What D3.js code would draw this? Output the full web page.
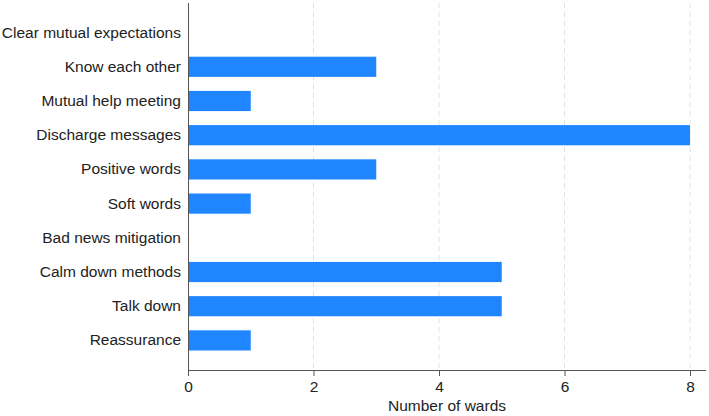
<!DOCTYPE html>
<html>
<head>
<meta charset="utf-8">
<script src="https://cdn.jsdelivr.net/npm/d3@7"></script>
<style>
  body { margin: 0; background: #fff; }
  svg { display: block; font-family: "Liberation Sans", Arial, sans-serif; }
</style>
</head>
<body>
<svg id="chart" width="709" height="416"></svg>
<script>
const categories = ["Clear mutual expectations", "Know each other", "Mutual help meeting",
  "Discharge messages", "Positive words", "Soft words", "Bad news mitigation",
  "Calm down methods", "Talk down", "Reassurance"]
const wards = [0, 3, 1, 8, 3, 1, 0, 5, 5, 1]
const xTicks = [0, 2, 4, 6, 8]
const xTitle = "Number of wards"

const margin = {top: 3, right: 3, bottom: 46, left: 188}
const width = 709, height = 416
const plotW = width - margin.left - margin.right
const plotH = height - margin.top - margin.bottom

const svg = d3.select("#chart")
const plot = svg.append("g").attr("transform", "translate(" + margin.left + "," + margin.top + ")")

const x = d3.scaleLinear().domain([0, 8]).range([0, 502])
const y = d3.scaleBand().domain(categories).range([0, plotH]).paddingInner(0.41).paddingOuter(0.57)

// grid
plot.append("g").selectAll("line")
  .data(xTicks.filter(d => d > 0))
  .join("line")
  .attr("x1", d => x(d)).attr("x2", d => x(d))
  .attr("y1", 0).attr("y2", plotH)
  .attr("stroke", "#e2e2e2")
  .attr("stroke-dasharray", "5,4")

// bars
plot.append("g").selectAll("rect")
  .data(wards)
  .join("rect")
  .attr("x", 0)
  .attr("y", (d, i) => y(categories[i]))
  .attr("width", d => x(d))
  .attr("height", y.bandwidth())
  .attr("fill", "#1f86ff")

// x axis
const xAxis = plot.append("g")
  .attr("transform", "translate(0," + plotH + ")")
  .call(d3.axisBottom(x).tickValues(xTicks).tickSize(6).tickPadding(5).tickSizeOuter(0))
xAxis.select(".domain").attr("d", "M0,0.5H" + plotW).attr("stroke", "#555")
xAxis.selectAll(".tick line").attr("stroke", "#555")
xAxis.selectAll("text").attr("font-size", 15.5).attr("fill", "#222").style("font-family", "inherit")

// y axis
const yAxis = plot.append("g")
  .call(d3.axisLeft(y).tickSize(0).tickPadding(7))
yAxis.select(".domain").attr("d", "M0.5,0V" + plotH).attr("stroke", "#555")
yAxis.selectAll("text").attr("font-size", 15.5).attr("fill", "#222").style("font-family", "inherit")

svg.append("text")
  .attr("x", margin.left + (plotW) / 2)
  .attr("y", 411)
  .attr("text-anchor", "middle")
  .attr("font-size", 15.5)
  .attr("fill", "#222")
  .text(xTitle)
</script>
</body>
</html>
